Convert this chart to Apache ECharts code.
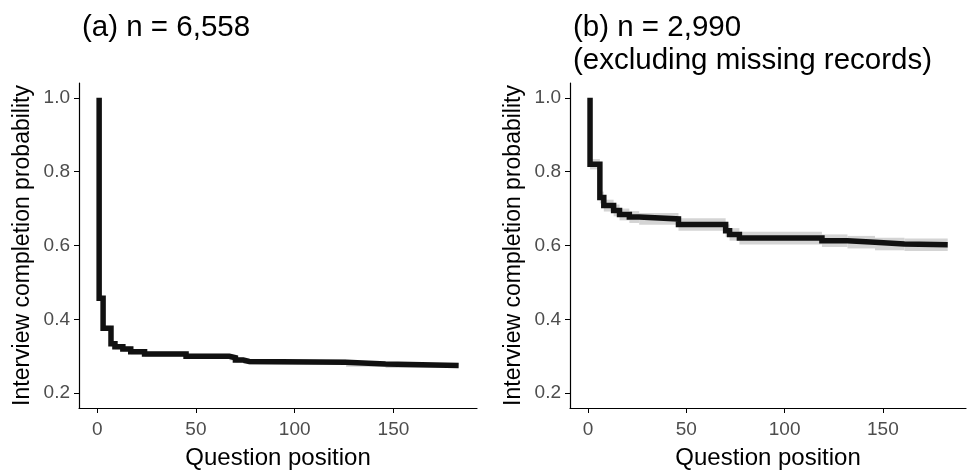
<!DOCTYPE html>
<html>
<head>
<meta charset="utf-8">
<script src="https://cdn.jsdelivr.net/npm/echarts@6.0.0/dist/echarts.min.js"></script>
<style>
  html, body { margin: 0; padding: 0; background: #fff; }
  #main { width: 968px; height: 472px; }
</style>
</head>
<body>
<div id="main"></div>
<script>
// panel (a): all records
var xA = [1, 1, 3, 7, 9, 13, 17, 24, 45, 67, 70, 74, 77, 126, 146, 183];
var yA = [1.0, 0.457, 0.376, 0.334, 0.326, 0.32, 0.312, 0.306, 0.30, 0.296, 0.29, 0.286, 0.284, 0.279, 0.275, 0.275];
var loA = [1.0, 0.450, 0.369, 0.327, 0.319, 0.313, 0.305, 0.299, 0.293, 0.289, 0.283, 0.279, 0.277, 0.272, 0.268, 0.268];
var hiA = [1.0, 0.464, 0.383, 0.341, 0.333, 0.327, 0.319, 0.313, 0.307, 0.303, 0.297, 0.293, 0.291, 0.286, 0.282, 0.282];

// panel (b): excluding missing records
var xB = [1, 1, 6, 8, 13, 16, 21, 26, 46, 70, 72, 77, 119, 132, 146, 161, 183];
var yB = [1.0, 0.82, 0.73, 0.708, 0.695, 0.684, 0.677, 0.672, 0.657, 0.64, 0.63, 0.62, 0.613, 0.609, 0.604, 0.602, 0.602];
var loB = [1.0, 0.806, 0.714, 0.692, 0.679, 0.668, 0.661, 0.656, 0.640, 0.623, 0.613, 0.603, 0.596, 0.592, 0.587, 0.585, 0.585];
var hiB = [1.0, 0.834, 0.746, 0.724, 0.711, 0.700, 0.693, 0.688, 0.674, 0.657, 0.647, 0.637, 0.630, 0.626, 0.621, 0.619, 0.619];

var xTicks = [0, 50, 100, 150];
var yTicks = [0.2, 0.4, 0.6, 0.8, 1.0];
var titles = ['(a) n = 6,558', '(b) n = 2,990\n(excluding missing records)'];

var font = 'Liberation Sans, Arial, sans-serif';
var grids = [
  { left: 79, top: 83, width: 398, height: 325, outerBoundsMode: 'none', containLabel: false },
  { left: 570, top: 83, width: 396, height: 325, outerBoundsMode: 'none', containLabel: false }
];

function xAxisFor(i) {
  return {
    type: 'value', gridIndex: i, min: -9.2, max: 192.3,
    name: 'Question position', nameLocation: 'middle', nameGap: 38,
    nameTextStyle: { fontSize: 24, color: '#000', fontFamily: font },
    axisLine: { onZero: false, lineStyle: { color: '#000', width: 1.2 } },
    axisTick: { show: true, length: 5, customValues: xTicks, lineStyle: { color: '#000', width: 1 } },
    axisLabel: { customValues: xTicks, fontSize: 19, color: '#4d4d4d', margin: 12, fontFamily: font },
    splitLine: { show: false }
  };
}
function yAxisFor(i) {
  return {
    type: 'value', gridIndex: i, min: 0.16, max: 1.04,
    name: 'Interview completion probability', nameLocation: 'middle', nameGap: 45,
    nameTextStyle: { fontSize: 23, color: '#000', fontFamily: font },
    axisLine: { onZero: false, lineStyle: { color: '#000', width: 1.2 } },
    axisTick: { show: true, length: 5, customValues: yTicks, lineStyle: { color: '#000', width: 1 } },
    axisLabel: { customValues: yTicks, fontSize: 19, color: '#4d4d4d', margin: 9, fontFamily: font,
      formatter: function (v) { return v.toFixed(1); } },
    splitLine: { show: false }
  };
}

function band(i, xs, lo, hi) {
  var d = [];
  for (var k = 0; k < xs.length - 1; k++) d.push([xs[k], xs[k + 1], lo[k], hi[k]]);
  return {
    type: 'custom', xAxisIndex: i, yAxisIndex: i, silent: true, z: 1,
    data: d, encode: { x: [0, 1], y: [2, 3] },
    renderItem: function (params, api) {
      var p0 = api.coord([api.value(0), api.value(3)]);
      var p1 = api.coord([api.value(1), api.value(2)]);
      return { type: 'rect', shape: { x: p0[0], y: p0[1], width: p1[0] - p0[0], height: p1[1] - p0[1] },
        style: { fill: '#d4d4d4' } };
    }
  };
}
function curve(i, xs, ys) {
  return {
    type: 'line', xAxisIndex: i, yAxisIndex: i, step: 'end', showSymbol: false, silent: true, z: 3,
    data: xs.map(function (x, k) { return [x, ys[k]]; }),
    lineStyle: { color: '#111', width: 5.5, join: 'miter', cap: 'butt' }
  };
}

var chart = echarts.init(document.getElementById('main'));
chart.setOption({
  backgroundColor: '#fff',
  animation: false,
  title: [
    { text: titles[0], left: 77, top: 6, textStyle: { fontSize: 29.5, fontWeight: 'normal', color: '#000', fontFamily: font, lineHeight: 33 } },
    { text: titles[1], left: 568, top: 6, textStyle: { fontSize: 29.5, fontWeight: 'normal', color: '#000', fontFamily: font, lineHeight: 33 } }
  ],
  grid: grids,
  xAxis: [xAxisFor(0), xAxisFor(1)],
  yAxis: [yAxisFor(0), yAxisFor(1)],
  series: [band(0, xA, loA, hiA), curve(0, xA, yA), band(1, xB, loB, hiB), curve(1, xB, yB)]
});
</script>
</body>
</html>
